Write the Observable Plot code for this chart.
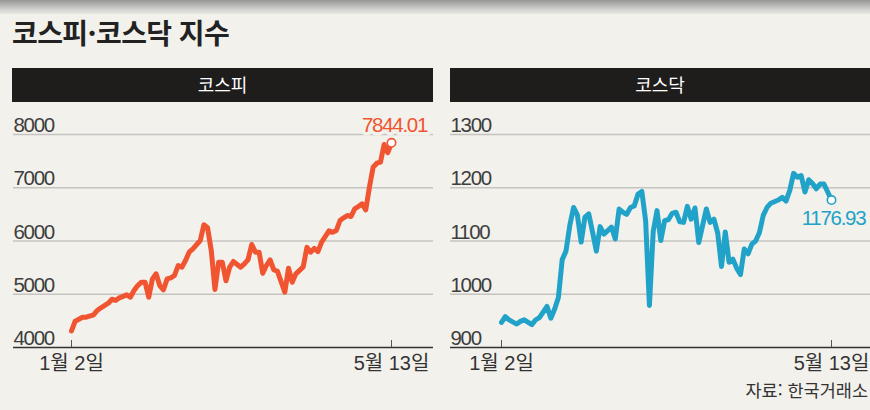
<!DOCTYPE html>
<html lang="ko">
<head>
<meta charset="utf-8">
<script src="https://cdn.jsdelivr.net/npm/d3@7"></script>
<script src="https://cdn.jsdelivr.net/npm/@observablehq/plot@0.6"></script>
<style>
  html, body { margin: 0; padding: 0; }
  body {
    width: 870px; height: 410px; position: relative; overflow: hidden;
    background: #f2f1ec;
    font-family: "Liberation Sans", "Noto Sans CJK KR", sans-serif;
  }
  #topbar { position: absolute; left: 0; top: 0; width: 870px; height: 14px;
    background: linear-gradient(#959595, #d4d4d2 70%, #e8e7e3); }
  #title { position: absolute; left: 12px; top: 13px; font-family: "Noto Sans CJK KR", sans-serif;
    font-weight: 700; font-size: 28px; letter-spacing: -0.6px; color: #222; line-height: 38px; }
  .panel { position: absolute; top: 68px; }
  .panel svg { display: block; }
  .head { height: 34px; background: #1f1d1c; color: #fff; text-align: center;
    font-family: "Noto Sans CJK KR", sans-serif; font-size: 18px; line-height: 33px; }
  #source { position: absolute; right: 2px; top: 377px; font-family: "Noto Sans CJK KR", sans-serif;
    font-size: 17.5px; color: #333; line-height: 26px; }
  g[font-family="Liberation Sans"] { letter-spacing: -1.3px; }
</style>
</head>
<body>
<div id="topbar"></div>
<div id="title">코스피·코스닥 지수</div>
<div class="panel" id="left" style="left:12px;width:421px;"><div class="head">코스피</div></div>
<div class="panel" id="right" style="left:450px;width:420px;"><div class="head">코스닥</div></div>
<div id="source">자료: 한국거래소</div>
<script>
// Trading-day index (0 = 1월 2일, 87 = 5월 13일) and closing values
const kospiDays = [0,1,3,4,6,7,8,10,11,12,13,15,16,17,18,19,20,21,22,23,24,25,26,27,28,29,30,31,32,33,35,36,37,38,39,40,41,42,43,44,46,47,48,49,50,51,52,53,54,55,56,58,59,60,61,63,64,65,66,67,68,70,71,72,73,74,75,76,77,78,79,80,81,82,83,84,85,86,87];
const kospiValues = [4310,4494,4569,4569,4614,4695,4745,4832,4907,4883,4933,4989,4945,5070,5164,5226,5226,4945,5289,5383,5164,5083,5289,5308,5352,5540,5508,5634,5790,5853,6009,6304,6248,5822,5090,5602,5602,5252,5508,5615,5508,5570,5650,5934,5790,5790,5395,5540,5646,5460,5430,5039,5490,5226,5383,5515,5880,5790,5860,5800,5980,6190,6163,6197,6385,6435,6479,6460,6604,6648,6698,6585,7010,7386,7461,7480,7812,7660,7844.01];

const kosdaqDays = [0,1,2,4,5,6,8,9,10,12,13,14,15,16,17,18,19,20,21,22,23,24,25,26,27,29,30,31,32,33,34,35,36,37,38,39,40,41,42,43,44,45,46,47,48,49,50,51,52,54,55,56,57,58,59,60,61,62,63,64,65,66,67,68,69,70,71,73,74,75,76,77,78,79,80,81,82,83,84,85,87];
const kosdaqValues = [947,958,952,944,949,952,943,952,956,977,955,972,994,1065,1081,1129,1163,1149,1098,1145,1151,1117,1081,1127,1113,1126,1104,1160,1154,1150,1163,1166,1188,1193,1138,979,1118,1157,1101,1138,1140,1152,1154,1136,1135,1165,1141,1162,1097,1160,1135,1141,1115,1052,1117,1060,1066,1049,1037,1085,1076,1094,1100,1116,1148,1163,1171,1177,1182,1175,1195,1227,1220,1223,1192,1215,1208,1198,1207,1207,1176.93];

const kospiTicks = [4000,5000,6000,7000,8000];
const kosdaqTicks = [900,1000,1100,1200,1300];
const xTickDays = [0,87];
const xTickLabels = ["1월 2일","5월 13일"];
const kospiLabel = "7844.01";
const kosdaqLabel = "1176.93";

const BG = "#f2f1ec";
const NUMFONT = "Liberation Sans";
const LABFONT = '"Liberation Sans", "Noto Sans CJK KR", sans-serif';

function chart({days, values, ticks, color, label, width, marginLeft, marginRight, labelDx, labelDy, tickDx}) {
  const data = days.map((d, i) => ({d, v: values[i]}));
  const last = [data[data.length - 1]];
  const height = 278, marginTop = 32, marginBottom = 33;
  return Plot.plot({
    width, height, marginLeft, marginRight, marginTop, marginBottom,
    x: {domain: [0, 87], axis: null},
    y: {domain: [ticks[0], ticks[ticks.length - 1]], axis: null},
    style: {fontFamily: LABFONT, background: "transparent", overflow: "visible"},
    marks: [
      Plot.ruleY(ticks.slice(1), {y: d => d, stroke: "#c6c4bf", strokeWidth: 1.4,
        insetLeft: -(marginLeft - tickDx), insetRight: -marginRight}),
      Plot.ruleY([ticks[0]], {y: d => d, stroke: "#333", strokeWidth: 1.4,
        insetLeft: -(marginLeft - tickDx), insetRight: -marginRight}),
      Plot.ruleX(xTickDays, {x: d => d, y1: ticks[0], y2: ticks[0], insetTop: -7, stroke: "#555", strokeWidth: 1}),
      Plot.text(ticks, {y: d => d, text: d => String(d), frameAnchor: "left", textAnchor: "start",
        dx: -(marginLeft - tickDx), dy: -9, fontSize: 20.5, fill: "#3e3e3e", fontFamily: NUMFONT}),
      Plot.text(xTickDays, {x: d => d, text: (d, i) => xTickLabels[i], frameAnchor: "bottom",
        dy: 22, fontSize: 20, fill: "#333", fontFamily: LABFONT}),
      Plot.line(data, {x: "d", y: "v", stroke: color, strokeWidth: 5, strokeLinejoin: "round", strokeLinecap: "round"}),
      Plot.dot(last, {x: "d", y: "v", r: 4.2, fill: "white", stroke: color, strokeWidth: 1.6}),
      Plot.text(last, {x: "d", y: "v", text: () => label, dx: labelDx, dy: labelDy, fontSize: 20.5,
        fill: color, stroke: BG, strokeWidth: 7, paintOrder: "stroke", fontFamily: NUMFONT})
    ]
  });
}

document.getElementById("left").appendChild(chart({
  days: kospiDays, values: kospiValues, ticks: kospiTicks, color: "#f15430", label: kospiLabel,
  width: 421, marginLeft: 59, marginRight: 42, labelDx: 3, labelDy: -17, tickDx: 1
}));
document.getElementById("right").appendChild(chart({
  days: kosdaqDays, values: kosdaqValues, ticks: kosdaqTicks, color: "#21a2c8", label: kosdaqLabel,
  width: 420, marginLeft: 51, marginRight: 39, labelDx: 2, labelDy: 18, tickDx: 0
}));
</script>
</body>
</html>
